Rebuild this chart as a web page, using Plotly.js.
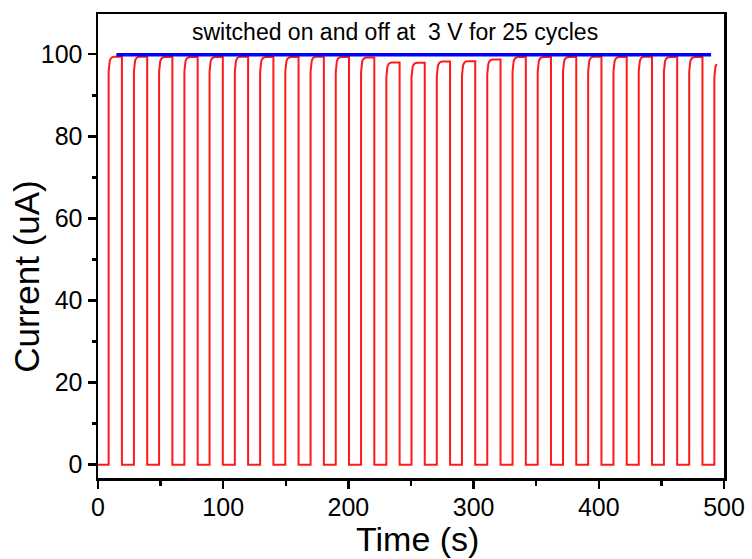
<!DOCTYPE html>
<html>
<head>
<meta charset="utf-8">
<script src="https://cdn.plot.ly/plotly-3.0.1.min.js"></script>
<style>html,body{margin:0;padding:0;background:#fff;}#chart{width:752px;height:559px;}</style>
</head>
<body>
<div id="chart"></div>
<script>
// Pulse switch-on times (s)
const onTimes = [8.5, 28.7, 48.8, 69.0, 89.1, 109.3, 129.5, 149.6, 169.8, 189.9,
  210.1, 230.3, 250.4, 270.6, 290.7, 310.9, 331.1, 351.2, 371.4, 391.5,
  411.7, 431.9, 452.0, 472.2, 492.3];
// Pulse switch-off times (s); the last pulse is cut off by the end of the record
const offTimes = [19.1, 39.3, 59.4, 79.6, 99.7, 119.9, 140.1, 160.2, 180.4, 200.5,
  220.7, 240.9, 261.0, 281.2, 301.3, 321.5, 341.7, 361.8, 382.0, 402.1,
  422.3, 442.5, 462.6, 482.8];
// Plateau current of each pulse (uA)
const peakValues = [99.4, 99.4, 99.3, 99.3, 99.3, 99.4, 99.3, 99.3, 99.4, 99.3,
  99.2, 98.0, 97.9, 98.2, 98.3, 98.7, 99.3, 99.3, 99.3, 99.4,
  99.3, 99.4, 99.3, 99.3, 98.0];
const recordEnd = 494.3;
// Rounded top of a rising edge: time offset (s) and drop below plateau (uA)
const riseDt = [0, 0.3, 0.9, 1.8, 3.0, 4.5];
const riseDv = [-3.6, -2.0, -1.0, -0.4, -0.1, 0];
const baseCurrent = 0;
// Reference (set) level line
const refX = [14.7, 489.7];
const refY = [99.9, 99.9];

const xs = [0], ys = [baseCurrent];
for (let i = 0; i < onTimes.length; i++) {
  const t0 = onTimes[i], pk = peakValues[i];
  xs.push(t0); ys.push(baseCurrent);
  if (i < offTimes.length) {
    for (let j = 0; j < riseDt.length; j++) { xs.push(t0 + riseDt[j]); ys.push(pk + riseDv[j]); }
    xs.push(offTimes[i]); ys.push(pk);
    xs.push(offTimes[i]); ys.push(baseCurrent);
  } else {
    for (let j = 0; j < riseDt.length; j++) {
      if (t0 + riseDt[j] > recordEnd) break;
      xs.push(t0 + riseDt[j]); ys.push(pk + riseDv[j]);
    }
  }
}

const font = 'Liberation Sans, Arial, sans-serif';
const traces = [
  {x: xs, y: ys, mode: 'lines', line: {color: '#ff1a1a', width: 2}, hoverinfo: 'skip'},
  {x: refX, y: refY, mode: 'lines', line: {color: '#0000ff', width: 3.5}, hoverinfo: 'skip'}
];
const axisCommon = {
  showgrid: false, zeroline: false, showline: true, linecolor: '#000', linewidth: 2.5,
  mirror: true, ticks: 'outside', ticklen: 8, tickwidth: 2.5, tickcolor: '#000',
  tickfont: {family: font, size: 25, color: '#000'}
};
const layout = {
  width: 752, height: 559,
  margin: {l: 98, r: 28, t: 14, b: 81},
  paper_bgcolor: '#fff', plot_bgcolor: '#fff',
  showlegend: false,
  xaxis: Object.assign({}, axisCommon, {
    range: [0, 500], tickvals: [0, 100, 200, 300, 400, 500],
    ticklabelstandoff: -3,
    minor: {tickvals: [50, 150, 250, 350, 450], ticks: 'outside', ticklen: 5, tickwidth: 2.5, tickcolor: '#000'}
  }),
  yaxis: Object.assign({}, axisCommon, {
    range: [-3.25, 109.8], tickvals: [0, 20, 40, 60, 80, 100],
    minor: {tickvals: [10, 30, 50, 70, 90], ticks: 'outside', ticklen: 4, tickwidth: 2.5, tickcolor: '#000'}
  }),
  annotations: [
    {
      x: 236.9, y: 105.5, xref: 'x', yref: 'y', showarrow: false,
      text: 'switched on and off at&nbsp; 3 V for 25 cycles',
      font: {family: font, size: 23, color: '#000'}
    },
    {
      x: 0.51, y: -0.132, xref: 'paper', yref: 'paper', showarrow: false,
      xanchor: 'center', yanchor: 'middle',
      text: 'Time (s)', font: {family: font, size: 34, color: '#000'}
    },
    {
      x: -0.114, y: 0.435, xref: 'paper', yref: 'paper', showarrow: false,
      xanchor: 'center', yanchor: 'middle', textangle: -90,
      text: 'Current (uA)', font: {family: font, size: 35, color: '#000'}
    }
  ]
};
Plotly.newPlot('chart', traces, layout, {displayModeBar: false, staticPlot: true});
</script>
</body>
</html>
